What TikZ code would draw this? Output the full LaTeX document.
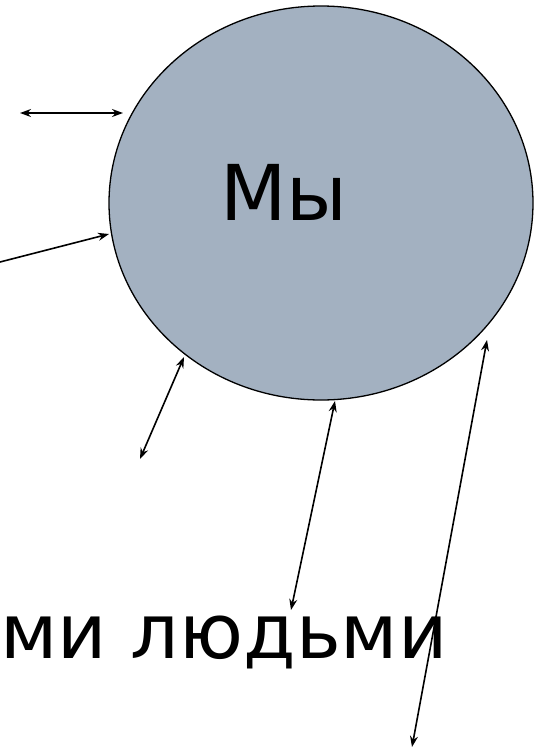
\documentclass[tikz,border=0pt]{standalone}
\usepackage{fontspec}
\setmainfont{DejaVu Sans}
\usetikzlibrary{arrows.meta}
\usetikzlibrary{shapes.geometric}
\definecolor{nousfill}{RGB}{163,177,193}

\begin{document}
\begin{tikzpicture}[x=1pt,y=-1pt,
    lien/.style={line width=1.6pt,{Stealth[length=11pt,width=8pt]}-{Stealth[length=11pt,width=8pt]}},
    entree/.style={line width=1.6pt,-{Stealth[length=11pt,width=8pt]}}]
    % cadre
    \useasboundingbox (0,0) rectangle (538,748);
    % le cercle
    \node[ellipse, draw, line width=1.3pt, fill=nousfill, minimum width=424pt, minimum height=394pt, inner sep=0pt] (nous) at (321,203) {};
    \node[font=\fontsize{77}{80}\selectfont, anchor=base] (mots) at (284,220) {Мы};
    \node[font=\fontsize{76}{80}\selectfont, anchor=base west, inner sep=0pt] (autres) at (0,658) {ми людьми};
    % bouts des fleches
    \coordinate (a1) at (20,113);  \coordinate (b1) at (123,113);
    \coordinate (a2) at (0,262);   \coordinate (b2) at (109,234);
    \coordinate (a3) at (140,459); \coordinate (b3) at (184,357);
    \coordinate (a4) at (291,610); \coordinate (b4) at (335,401);
    \coordinate (a5) at (412,747); \coordinate (b5) at (487,340);
    \draw[lien] (a1) -- (b1);
    \draw[entree] (a2) -- (b2);
    \draw[lien] (a3) -- (b3);
    \draw[lien] (a4) -- (b4);
    \draw[lien] (a5) -- (b5);
\end{tikzpicture}
\end{document}
